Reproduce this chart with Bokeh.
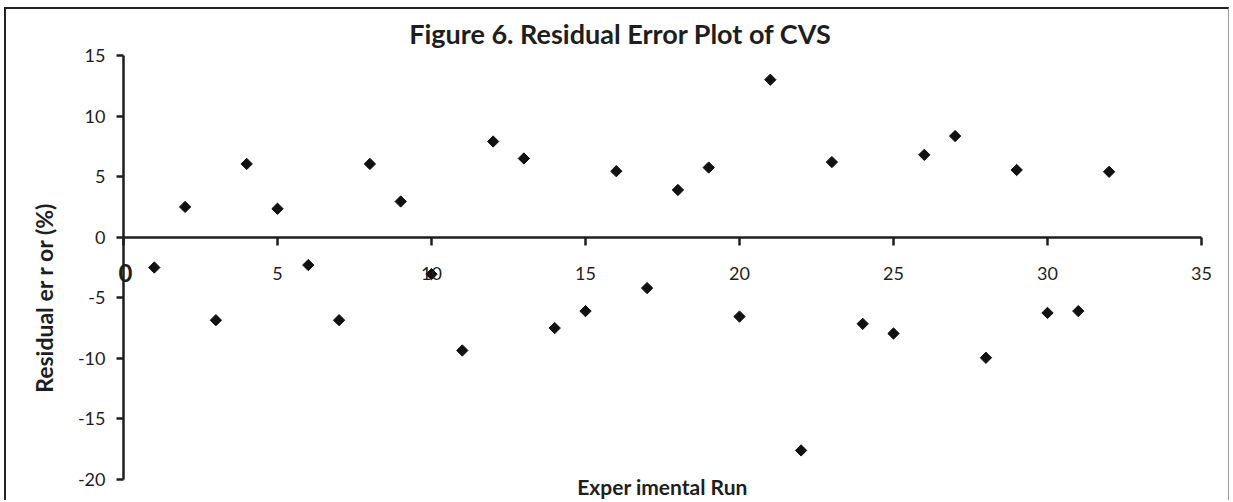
from math import pi
from bokeh.plotting import figure
from bokeh.models import Range1d, FixedTicker, Label
from bokeh.embed import file_html
from bokeh.resources import INLINE

# ---- data ----
runs = [1, 2, 3, 4, 5, 6, 7, 8, 9, 10, 11, 12, 13, 14, 15, 16,
        17, 18, 19, 20, 21, 22, 23, 24, 25, 26, 27, 28, 29, 30, 31, 32]
residual_error = [-2.5, 2.5, -6.85, 6.05, 2.35, -2.3, -6.85, 6.05, 2.95, -3.05, -9.35, 7.9,
                  6.5, -7.5, -6.1, 5.45, -4.2, 3.9, 5.75, -6.55, 13.0, -17.6, 6.2, -7.15,
                  -7.95, 6.8, 8.35, -9.95, 5.55, -6.25, -6.1, 5.4]
x_ticks = [0, 5, 10, 15, 20, 25, 30, 35]
y_ticks = [-20, -15, -10, -5, 0, 5, 10, 15]
title_text = "Figure 6. Residual Error Plot of CVS"
x_label_text = "Exper imental Run"
y_label_text = "Residual er r or (%)"

FONT = "Lato"
INK = "#1e1e1e"

# ---- layout (pixels inside the canvas) ----
W, H = 1225, 493
AX_LEFT, AX_RIGHT = 117, 1195      # where x = 0 and x = 35 fall
AX_TOP, AX_BOTTOM = 46, 470        # where y = 15 and y = -20 fall
x0, x1 = x_ticks[0], x_ticks[-1]
y0, y1 = y_ticks[0], y_ticks[-1]
ppx = (AX_RIGHT - AX_LEFT) / (x1 - x0)
ppy = (AX_BOTTOM - AX_TOP) / (y1 - y0)
x_range = Range1d(x0 - AX_LEFT / ppx, x1 + (W - AX_RIGHT) / ppx)
y_range = Range1d(y0 - (H - AX_BOTTOM) / ppy, y1 + AX_TOP / ppy)

p = figure(width=W, height=H, output_backend="svg", toolbar_location=None,
           x_range=x_range, y_range=y_range, min_border=0,
           outline_line_color=None, background_fill_color="white", border_fill_color="white")
p.styles = {"margin-left": "4px", "margin-top": "7px",
            "border-top": "2px solid #222222", "border-left": "2px solid #222222",
            "border-right": "1px solid #9a9a9a"}
p.grid.visible = False

hyphen = {t: str(t) for t in y_ticks}

# y axis at x = 0
ya = p.yaxis[0]
ya.fixed_location = 0
ya.bounds = (y0, y1)
ya.ticker = FixedTicker(ticks=y_ticks)
ya.major_label_overrides = hyphen
ya.minor_tick_line_color = None
ya.major_tick_in = 0
ya.major_tick_out = 7
ya.axis_line_width = 2.5
ya.major_tick_line_width = 2.5
ya.axis_line_color = INK
ya.major_tick_line_color = INK
ya.major_label_standoff = 11
ya.major_label_text_font = FONT
ya.major_label_text_font_size = "18px"
ya.major_label_text_color = INK

# x axis crossing at y = 0
xa = p.xaxis[0]
xa.fixed_location = 0
xa.bounds = (x0, x1)
xa.ticker = FixedTicker(ticks=x_ticks)
xa.minor_tick_line_color = None
xa.major_tick_in = 0
xa.major_tick_out = 8
xa.axis_line_width = 2.5
xa.major_tick_line_width = 2.5
xa.axis_line_color = INK
xa.major_tick_line_color = INK
xa.major_label_standoff = 22
xa.major_label_overrides = {0: ""}
xa.major_label_text_font = FONT
xa.major_label_text_font_size = "18px"
xa.major_label_text_color = INK

p.scatter(runs, residual_error, marker="square", angle=pi / 4, size=8,
          fill_color="#111111", line_color="#111111", line_width=1)

# texts
p.add_layout(Label(x=x0, y=y1, x_offset=497, y_offset=22, text=title_text,
                   text_align="center", text_baseline="middle", text_font=FONT,
                   text_font_size="27px", text_font_style="bold", text_color=INK))
p.add_layout(Label(x=(x0 + x1) / 2, y=y0, y_offset=-7, text=x_label_text,
                   text_align="center", text_baseline="middle", text_font=FONT,
                   text_font_size="21px", text_font_style="bold", text_color=INK))
p.add_layout(Label(x=x0, y=y0, x_offset=-80, y_offset=182, angle=pi / 2,
                   text=y_label_text, text_align="center", text_baseline="middle",
                   text_font=FONT, text_font_size="23px", text_font_style="bold", text_color=INK))
p.add_layout(Label(x=x0, y=0, x_offset=2, y_offset=-36, text="0",
                   text_align="center", text_baseline="middle", text_font=FONT,
                   text_font_size="24px", text_font_style="bold", text_color=INK))

open("out.html", "w").write(file_html(p, INLINE))
